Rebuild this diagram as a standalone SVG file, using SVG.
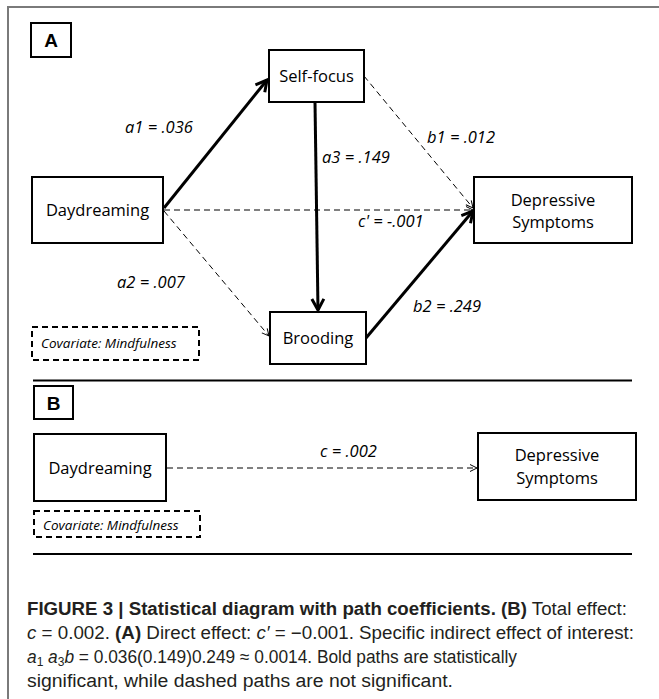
<svg xmlns="http://www.w3.org/2000/svg" width="659" height="699" viewBox="0 0 659 699">
<style>
.box{fill:#fff;stroke:#000;stroke-width:2}
.cov{fill:none;stroke:#000;stroke-width:2;stroke-dasharray:6,4}
.t{font-family:"Open Sans","Liberation Sans",sans-serif;font-size:16.5px;fill:#000;text-anchor:middle}
.lab{font-family:"Open Sans","Liberation Sans",sans-serif;font-size:16.5px;font-style:italic;fill:#000}
.covt{font-family:"Open Sans","Liberation Sans",sans-serif;font-size:13.5px;font-style:italic;fill:#000}
.pl{font-family:"Liberation Sans",Arial,sans-serif;font-size:19px;font-weight:bold;fill:#000;text-anchor:middle}
.bold{fill:none;stroke:#000;stroke-width:3}
.dash{fill:none;stroke:#000;stroke-width:1;stroke-dasharray:6,4}
.sep{stroke:#000;stroke-width:2}
.cap{font-family:"Liberation Sans",Arial,sans-serif;font-size:18px;fill:#231f20}
</style>
<defs>
<marker id="ab" markerUnits="userSpaceOnUse" markerWidth="16" markerHeight="16" refX="12" refY="7" orient="auto" viewBox="0 0 16 14">
<path d="M1,1 L12,7 L1,13" fill="none" stroke="#000" stroke-width="3"/>
</marker>
<marker id="ad" markerUnits="userSpaceOnUse" markerWidth="10" markerHeight="10" refX="8" refY="4" orient="auto" viewBox="0 0 10 8">
<path d="M1,0.5 L8,4 L1,7.5" fill="none" stroke="#000" stroke-width="1"/>
</marker>
</defs>
<path d="M659,7 H8 V699" fill="none" stroke="#7a7a7a" stroke-width="2"/>
<line class="sep" x1="33" y1="380.5" x2="632" y2="380.5"/>
<line class="sep" x1="33" y1="554" x2="632" y2="554"/>

<g id="panelA">
<g id="labelA"><rect class="box" x="31" y="23" width="40" height="34"/><text class="pl" x="51" y="47">A</text></g>
<g id="selffocus"><rect class="box" x="269" y="50" width="95" height="52"/><text class="t" x="316.5" y="82">Self-focus</text></g>
<g id="daydreamingA"><rect class="box" x="32" y="177" width="131" height="66"/><text class="t" x="97.5" y="216">Daydreaming</text></g>
<g id="depressiveA"><rect class="box" x="474" y="177" width="158" height="66"/><text class="t" x="553" y="206">Depressive</text><text class="t" x="553" y="228">Symptoms</text></g>
<g id="brooding"><rect class="box" x="270" y="312" width="96" height="52"/><text class="t" x="318" y="344">Brooding</text></g>
<g id="covariateA"><rect class="cov" x="32" y="327" width="167" height="33"/><text class="covt" x="41" y="348">Covariate: Mindfulness</text></g>
</g>

<g id="connectorsA">
<line class="bold" x1="164" y1="208" x2="267" y2="80" marker-end="url(#ab)"/>
<line class="bold" x1="315" y1="102" x2="318" y2="310" marker-end="url(#ab)"/>
<line class="bold" x1="366" y1="338" x2="473" y2="211" marker-end="url(#ab)"/>
<line class="dash" x1="364" y1="76" x2="473" y2="208" marker-end="url(#ad)"/>
<line class="dash" x1="164" y1="210" x2="473" y2="210" marker-end="url(#ad)"/>
<line class="dash" x1="164" y1="211" x2="269" y2="336" marker-end="url(#ad)"/>
<text class="lab" x="125" y="133">a1 = .036</text>
<text class="lab" x="322" y="163">a3 = .149</text>
<text class="lab" x="427" y="143">b1 = .012</text>
<text class="lab" x="358" y="227">c' = -.001</text>
<text class="lab" x="117" y="288">a2 = .007</text>
<text class="lab" x="413" y="312">b2 = .249</text>
</g>

<g id="panelB">
<g id="labelB"><rect class="box" x="34" y="386" width="39" height="33"/><text class="pl" x="53.5" y="410">B</text></g>
<g id="daydreamingB"><rect class="box" x="34" y="434" width="132" height="67"/><text class="t" x="100" y="474">Daydreaming</text></g>
<g id="depressiveB"><rect class="box" x="478" y="433" width="158" height="67"/><text class="t" x="557" y="461">Depressive</text><text class="t" x="557" y="484">Symptoms</text></g>
<g id="covariateB"><rect class="cov" x="34" y="511" width="166" height="26"/><text class="covt" x="43" y="530">Covariate: Mindfulness</text></g>
</g>

<g id="connectorsB">
<line class="dash" x1="167" y1="468" x2="477" y2="468" marker-end="url(#ad)"/>
<text class="lab" x="320" y="457">c = .002</text>
</g>

<g id="caption">
<text class="cap" x="27" y="615" textLength="600" lengthAdjust="spacingAndGlyphs"><tspan font-weight="bold">FIGURE 3 | Statistical diagram with path coefficients. (B)</tspan> Total effect:</text>
<text class="cap" x="27" y="639" textLength="607" lengthAdjust="spacingAndGlyphs"><tspan font-style="italic">c</tspan> = 0.002. <tspan font-weight="bold">(A)</tspan> Direct effect: <tspan font-style="italic">c′</tspan> = −0.001. Specific indirect effect of interest:</text>
<text class="cap" x="27" y="663" textLength="490" lengthAdjust="spacingAndGlyphs"><tspan font-style="italic">a</tspan><tspan font-size="12.5" dy="3">1</tspan><tspan font-style="italic" dy="-3"> a</tspan><tspan font-size="12.5" dy="3">3</tspan><tspan font-style="italic" dy="-3">b</tspan> = 0.036(0.149)0.249 ≈ 0.0014. Bold paths are statistically</text>
<text class="cap" x="27" y="687" textLength="426" lengthAdjust="spacingAndGlyphs">significant, while dashed paths are not significant.</text>
</g>
</svg>
